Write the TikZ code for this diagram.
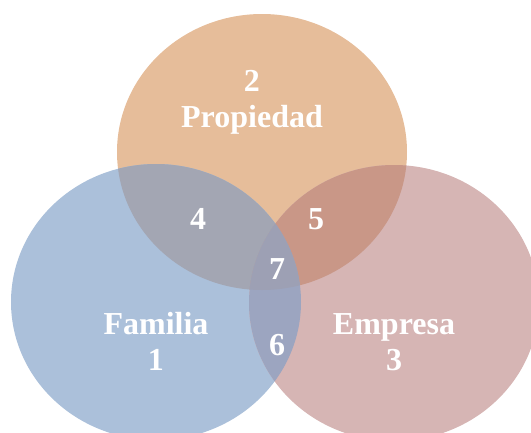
\documentclass[tikz,border=0pt]{standalone}
\usepackage{fontspec}
\setmainfont{Liberation Serif}
\definecolor{propcol}{HTML}{E6BD9A}
\definecolor{famcol}{HTML}{ABC0DA}
\definecolor{empcol}{HTML}{D6B5B4}
\definecolor{pfcol}{HTML}{A3A6B3}
\definecolor{pecol}{HTML}{C99787}
\definecolor{fecol}{HTML}{9CA5C0}
\definecolor{allcol}{HTML}{9DA0B4}
\tikzset{venntext/.style={text=white,font=\bfseries\fontsize{32}{35.6}\selectfont,align=center,anchor=base,inner sep=0pt}}
\def\propshape{(262,152) ellipse [x radius=145pt, y radius=138pt]}
\def\famshape{(156,302) ellipse [x radius=145pt, y radius=138pt]}
\def\empshape{(394,303) ellipse [x radius=145pt, y radius=138pt]}

\begin{document}
\begin{tikzpicture}[x=1pt,y=-1pt]
	\useasboundingbox (0,0) rectangle (531,432);
	% circles
	\fill[propcol] \propshape;
	\fill[famcol] \famshape;
	\fill[empcol] \empshape;
	% overlaps
	\begin{scope}
		\clip \propshape;
		\fill[pfcol] \famshape;
		\fill[pecol] \empshape;
	\end{scope}
	\begin{scope}
		\clip \famshape;
		\fill[fecol] \empshape;
		\clip \propshape;
		\fill[allcol] \empshape;
	\end{scope}
	% labels
	\node[venntext] (prop) at (252,127) {2\\Propiedad};
	\node[venntext] (fam) at (156,370) {Familia\\1};
	\node[venntext] (emp) at (394,370) {Empresa\\3};
	\node[venntext] (pf) at (198,229.6) {4};
	\node[venntext] (pe) at (316,229.6) {5};
	\node[venntext] (fe) at (277,355.6) {6};
	\node[venntext] (all) at (277,279) {7};
\end{tikzpicture}
\end{document}
